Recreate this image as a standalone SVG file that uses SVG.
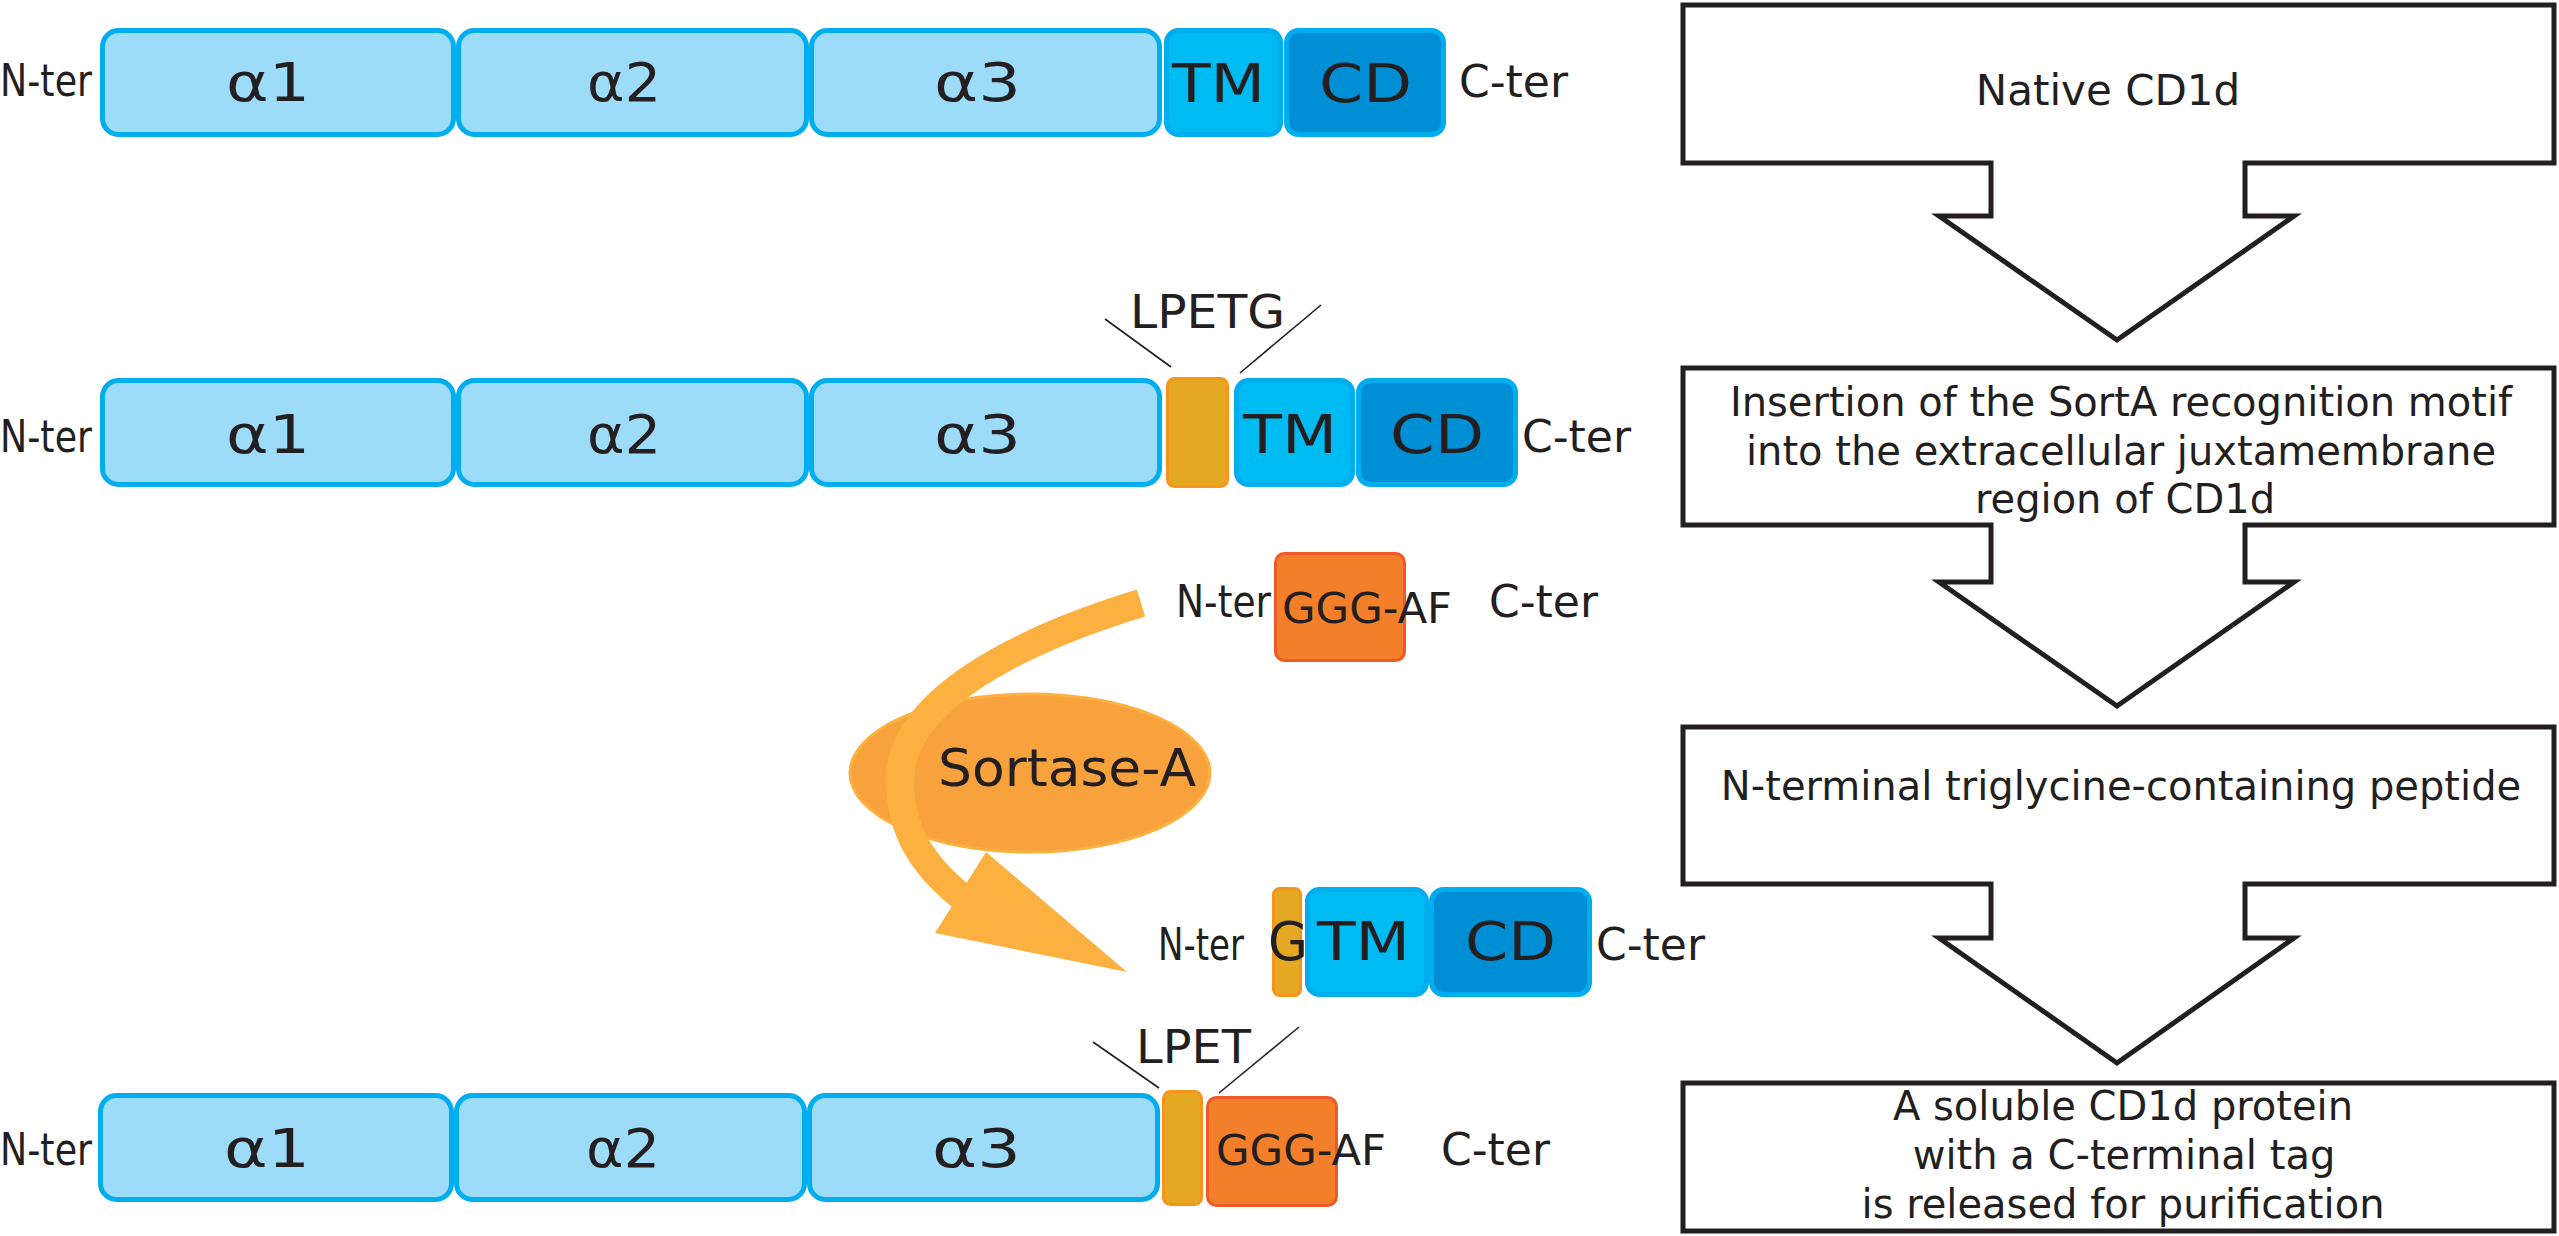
<svg xmlns="http://www.w3.org/2000/svg" width="2559" height="1236" viewBox="0 0 2559 1236">
<style>
.dom{fill:#9DDCF9;stroke:#00AEEF;stroke-width:5}
.tm{fill:#00BBF2;stroke:#00AEEF;stroke-width:5}
.cd{fill:#008FD4;stroke:#00AEEF;stroke-width:5}
.gold{fill:#E5A823;stroke:#F7941D;stroke-width:3}
.org{fill:#F47F2A;stroke:#F05A28;stroke-width:3}
.t{font-family:"DejaVu Sans",Verdana,sans-serif;fill:#231F20}
.lab{font-size:53px}
.big{font-size:54px}
.ter{font-size:44px}
.mot{font-size:46px}
.flow{fill:#fff;stroke:#231F20;stroke-width:5;stroke-linejoin:miter}
.ft{font-family:"DejaVu Sans",Verdana,sans-serif;font-size:40px;fill:#231F20;text-anchor:middle}
.ln{stroke:#231F20;stroke-width:1.6}
</style>

<g id="row1">
<text class="t ter" x="0" y="96" textLength="92" lengthAdjust="spacingAndGlyphs">N-ter</text>
<rect class="dom" x="102.5" y="30.5" width="351" height="104" rx="16"/>
<rect class="dom" x="458.5" y="30.5" width="348" height="104" rx="16"/>
<rect class="dom" x="811.5" y="30.5" width="348" height="104" rx="16"/>
<rect class="tm" x="1166.5" y="30.5" width="114" height="104" rx="12"/>
<rect class="cd" x="1286.5" y="30.5" width="157" height="104" rx="12"/>
<text class="t lab" x="226" y="101" textLength="84" lengthAdjust="spacingAndGlyphs">α1</text>
<text class="t lab" x="587" y="101" textLength="74" lengthAdjust="spacingAndGlyphs">α2</text>
<text class="t lab" x="934" y="101" textLength="87" lengthAdjust="spacingAndGlyphs">α3</text>
<text class="t big" x="1172" y="102" textLength="93" lengthAdjust="spacingAndGlyphs">TM</text>
<text class="t big" x="1319" y="102" textLength="93" lengthAdjust="spacingAndGlyphs">CD</text>
<text class="t ter" x="1459" y="97">C-ter</text>
</g>

<g id="row2">
<text class="t ter" x="0" y="452" textLength="92" lengthAdjust="spacingAndGlyphs">N-ter</text>
<rect class="dom" x="102.5" y="380.5" width="351" height="104" rx="16"/>
<rect class="dom" x="458.5" y="380.5" width="348" height="104" rx="16"/>
<rect class="dom" x="811.5" y="380.5" width="348" height="104" rx="16"/>
<rect class="gold" x="1167.5" y="378.5" width="60" height="108" rx="7"/>
<rect class="tm" x="1236.5" y="380.5" width="116" height="104" rx="12"/>
<rect class="cd" x="1358.5" y="380.5" width="157" height="104" rx="12"/>
<text class="t lab" x="226" y="453" textLength="84" lengthAdjust="spacingAndGlyphs">α1</text>
<text class="t lab" x="587" y="453" textLength="74" lengthAdjust="spacingAndGlyphs">α2</text>
<text class="t lab" x="934" y="453" textLength="87" lengthAdjust="spacingAndGlyphs">α3</text>
<text class="t big" x="1243" y="453" textLength="94" lengthAdjust="spacingAndGlyphs">TM</text>
<text class="t big" x="1390" y="453" textLength="94" lengthAdjust="spacingAndGlyphs">CD</text>
<text class="t ter" x="1522" y="452">C-ter</text>
<text class="t mot" x="1130" y="328" textLength="155" lengthAdjust="spacingAndGlyphs">LPETG</text>
<line class="ln" x1="1105" y1="319" x2="1171" y2="367"/>
<line class="ln" x1="1321" y1="305" x2="1240" y2="373"/>
</g>

<g id="peptide">
<rect class="org" x="1275.5" y="553.5" width="129" height="107" rx="9"/>
<text class="t ter" x="1176" y="617" textLength="95" lengthAdjust="spacingAndGlyphs">N-ter</text>
<text class="t" style="font-size:43px" x="1282" y="623" textLength="170" lengthAdjust="spacingAndGlyphs">GGG-AF</text>
<text class="t ter" x="1489" y="617">C-ter</text>
</g>

<g id="sortase">
<ellipse cx="1030" cy="773" rx="180" ry="79" fill="#F7A23C" stroke="#FBB040" stroke-width="3"/>
<path d="M1141,603 C1020,640 900,700 900,780 C900,830 922,865 962,897" fill="none" stroke="#FBB040" stroke-width="28"/>
<polygon points="986,852 935,933 1127,972" fill="#FBB040"/>
<text class="t" style="font-size:52px" x="938" y="786" textLength="258" lengthAdjust="spacingAndGlyphs">Sortase-A</text>
</g>

<g id="row3">
<rect class="gold" x="1273.5" y="888.5" width="27" height="107" rx="6"/>
<rect class="tm" x="1307.5" y="889.5" width="119" height="105" rx="12"/>
<rect class="cd" x="1431.5" y="889.5" width="158" height="105" rx="12"/>
<text class="t ter" x="1158" y="960" textLength="86" lengthAdjust="spacingAndGlyphs">N-ter</text>
<text class="t big" x="1268" y="960" textLength="40" lengthAdjust="spacingAndGlyphs">G</text>
<text class="t big" x="1317" y="960" textLength="93" lengthAdjust="spacingAndGlyphs">TM</text>
<text class="t big" x="1465" y="960" textLength="91" lengthAdjust="spacingAndGlyphs">CD</text>
<text class="t ter" x="1596" y="960">C-ter</text>
</g>

<g id="row4">
<text class="t ter" x="0" y="1165" textLength="92" lengthAdjust="spacingAndGlyphs">N-ter</text>
<rect class="dom" x="100.5" y="1095.5" width="351" height="104" rx="16"/>
<rect class="dom" x="456.5" y="1095.5" width="348" height="104" rx="16"/>
<rect class="dom" x="809.5" y="1095.5" width="348" height="104" rx="16"/>
<rect class="gold" x="1163.5" y="1091.5" width="38" height="113" rx="7"/>
<rect class="org" x="1207.5" y="1097.5" width="129" height="108" rx="9"/>
<text class="t lab" x="224" y="1167" textLength="86" lengthAdjust="spacingAndGlyphs">α1</text>
<text class="t lab" x="586" y="1167" textLength="74" lengthAdjust="spacingAndGlyphs">α2</text>
<text class="t lab" x="932" y="1167" textLength="89" lengthAdjust="spacingAndGlyphs">α3</text>
<text class="t" style="font-size:43px" x="1216" y="1165" textLength="170" lengthAdjust="spacingAndGlyphs">GGG-AF</text>
<text class="t ter" x="1441" y="1165">C-ter</text>
<text class="t mot" x="1136" y="1063" textLength="115" lengthAdjust="spacingAndGlyphs">LPET</text>
<line class="ln" x1="1093" y1="1042" x2="1159" y2="1088"/>
<line class="ln" x1="1299" y1="1027" x2="1219" y2="1093"/>
</g>

<g id="flow1">
<polygon class="flow" points="1683,5 2554,5 2554,163 2245,163 2245,216 2294,216 2117,340 1939,216 1991,216 1991,163 1683,163"/>
<text class="ft" x="2108" y="105" style="font-size:42px">Native CD1d</text>
</g>
<g id="flow2">
<polygon class="flow" points="1683,368 2554,368 2554,525 2245,525 2245,582 2294,582 2117,706 1939,582 1991,582 1991,525 1683,525"/>
<text class="ft" x="2121" y="416">Insertion of the SortA recognition motif</text>
<text class="ft" x="2121" y="465">into the extracellular juxtamembrane</text>
<text class="ft" x="2125" y="513">region of CD1d</text>
</g>
<g id="flow3">
<polygon class="flow" points="1683,727 2554,727 2554,884 2245,884 2245,938 2294,938 2117,1063 1939,938 1991,938 1991,884 1683,884"/>
<text class="ft" x="2121" y="800">N-terminal triglycine-containing peptide</text>
</g>
<g id="flow4">
<rect class="flow" x="1683" y="1083" width="871" height="148"/>
<text class="ft" x="2123" y="1120">A soluble CD1d protein</text>
<text class="ft" x="2124" y="1169">with a C-terminal tag</text>
<text class="ft" x="2123" y="1218">is released for purification</text>
</g>
<g id="connectors"></g>
</svg>
